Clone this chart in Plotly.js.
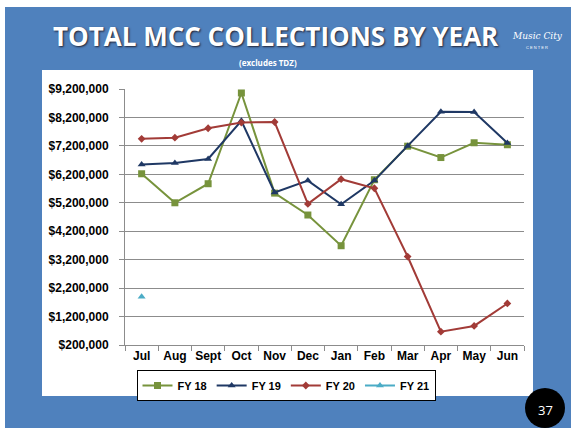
<!DOCTYPE html>
<html>
<head>
<meta charset="utf-8">
<script src="https://cdn.plot.ly/plotly-3.0.1.min.js"></script>
<style>
  html, body { margin: 0; padding: 0; background: #fff; }
  #chart { width: 571px; height: 428px; }
</style>
</head>
<body>
<div id="chart"></div>
<script>
// === Total MCC collections by fiscal year ===

const MONTHS = ['Jul', 'Aug', 'Sept', 'Oct', 'Nov', 'Dec', 'Jan', 'Feb', 'Mar', 'Apr', 'May', 'Jun'];

const FY18 = [6220000, 5200000, 5870000, 9060000, 5540000, 4770000, 3690000, 6010000, 7190000, 6790000, 7310000, 7240000];
const FY19 = [6550000, 6600000, 6740000, 8080000, 5560000, 5980000, 5150000, 5980000, 7200000, 8400000, 8390000, 7300000];
const FY20 = [7450000, 7490000, 7820000, 8020000, 8040000, 5160000, 6030000, 5710000, 3310000, 670000, 870000, 1660000];
const FY21 = [1900000];

const SERIES_NAMES = ['FY 18', 'FY 19', 'FY 20', 'FY 21'];
const COLORS = ['#77933c', '#1f3864', '#a23b37', '#4bacc6'];

const BLUE_BG = '#4f81bd';
const GRID_COLOR = '#8c8c8c';

// plot area in pixels (for placing paper shapes)
const W = 571, H = 428;
const L = 125, R = 524, T = 89, B = 345;
const px = x => (x - L) / (R - L);
const py = y => (B - y) / (B - T);

const FONT = 'Liberation Sans, Arial, sans-serif';

function line(y, i, symbol, size) {
  return {
    name: SERIES_NAMES[i],
    x: MONTHS.slice(0, y.length),
    y: y,
    type: 'scatter',
    mode: 'lines+markers',
    line: { color: COLORS[i], width: 2 },
    marker: { color: COLORS[i], symbol: symbol, size: size }
  };
}

const traces = [
  line(FY18, 0, 'square', 7),
  line(FY19, 1, 'triangle-up', 7),
  line(FY20, 2, 'diamond', 6),
  line(FY21, 3, 'triangle-up', 7)
];

const layout = {
  width: W,
  height: H,
  margin: { l: L, r: W - R, t: T, b: H - B, pad: 0 },
  paper_bgcolor: '#fff',
  plot_bgcolor: 'rgba(0,0,0,0)',
  showlegend: true,
  font: { family: FONT, color: '#000' },
  xaxis: {
    type: 'category',
    range: [-0.5, 11.5],
    showgrid: false,
    showline: true,
    linecolor: GRID_COLOR,
    linewidth: 1,
    ticks: 'outside',
    tickson: 'boundaries',
    ticklen: 5,
    tickcolor: GRID_COLOR,
    tickangle: 0,
    tickfont: { family: FONT, size: 12, weight: 'bold', color: '#000' },
    fixedrange: true
  },
  yaxis: {
    range: [200000, 9200000],
    tick0: 200000,
    dtick: 1000000,
    tickformat: '$,.0f',
    showgrid: true,
    gridcolor: GRID_COLOR,
    gridwidth: 1,
    zeroline: false,
    showline: true,
    linecolor: GRID_COLOR,
    ticks: 'outside',
    ticklen: 5,
    tickcolor: GRID_COLOR,
    ticklabelstandoff: 8,
    tickfont: { family: FONT, size: 12, weight: 'bold', color: '#000' },
    fixedrange: true
  },
  legend: {
    orientation: 'h',
    x: px(286), y: py(370),
    xanchor: 'center', yanchor: 'top',
    bgcolor: '#fff',
    bordercolor: '#000',
    borderwidth: 1,
    itemwidth: 30,
    tracegroupgap: 0,
    font: { family: FONT, size: 11, weight: 'bold', color: '#000' }
  },
  shapes: [
    // blue slide background
    { type: 'rect', xref: 'paper', yref: 'paper', layer: 'below',
      x0: px(5), x1: px(571), y0: py(428), y1: py(7),
      fillcolor: BLUE_BG, line: { width: 0 } },
    // white chart panel
    { type: 'rect', xref: 'paper', yref: 'paper', layer: 'below',
      x0: px(42), x1: px(533), y0: py(396), y1: py(70),
      fillcolor: '#fff', line: { width: 0 } },
    // page number badge
    { type: 'circle', xref: 'paper', yref: 'paper', layer: 'above',
      x0: px(525), x1: px(565), y0: py(428), y1: py(388),
      fillcolor: '#000', line: { width: 0 } }
  ],
  annotations: [
    { text: 'TOTAL MCC COLLECTIONS BY YEAR', xref: 'paper', yref: 'paper',
      x: px(276), y: py(36), showarrow: false, xanchor: 'center', yanchor: 'middle',
      font: { family: 'Open Sans, sans-serif', size: 26, weight: 'bold', color: '#fff',
              shadow: '1px 1px 2px #223' } },
    { text: '(excludes TDZ)', xref: 'paper', yref: 'paper',
      x: px(268), y: py(62), showarrow: false, xanchor: 'center', yanchor: 'middle',
      font: { family: 'Open Sans, sans-serif', size: 8, weight: 'bold', color: '#fff' } },
    { text: '<i>Music City</i>', xref: 'paper', yref: 'paper',
      x: px(537), y: py(36), showarrow: false, xanchor: 'center', yanchor: 'middle',
      font: { family: 'DejaVu Serif, serif', size: 9, color: '#fff' } },
    { text: 'C E N T E R', xref: 'paper', yref: 'paper',
      x: px(537), y: py(47), showarrow: false, xanchor: 'center', yanchor: 'middle',
      font: { family: FONT, size: 4, color: '#fff' } },
    { text: '37', xref: 'paper', yref: 'paper',
      x: px(545), y: py(410), showarrow: false, xanchor: 'center', yanchor: 'middle',
      font: { family: 'Open Sans, sans-serif', size: 13, color: '#fff' } }
  ]
};

Plotly.newPlot('chart', traces, layout, { displayModeBar: false, staticPlot: true });
</script>
</body>
</html>
